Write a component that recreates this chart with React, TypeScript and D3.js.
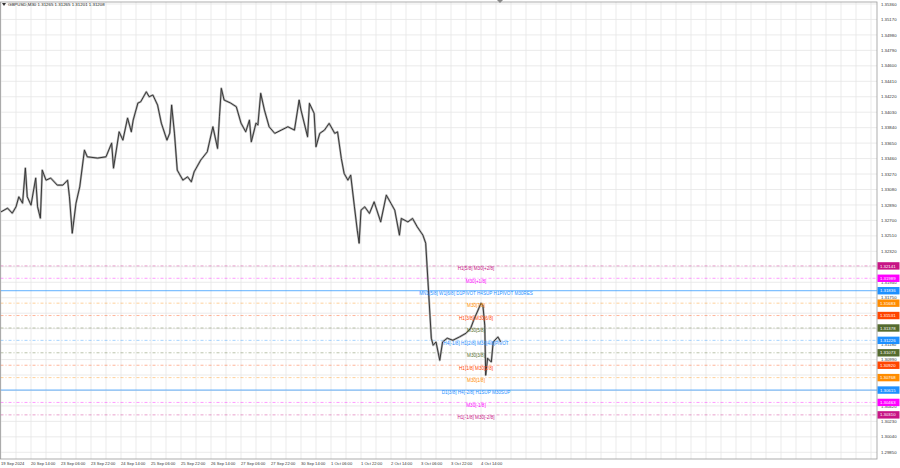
import * as d3 from 'd3';

const W = 900;
const H = 468;
const plot = { left: 0.5, right: 877, top: 2, bottom: 459 };

const title = 'GBPUSD,M30  1.31265 1.31265 1.31201 1.31208';

const timeLabels = [
  '19 Sep 2024', '20 Sep 14:00', '23 Sep 06:00', '23 Sep 22:00', '24 Sep 14:00',
  '25 Sep 06:00', '25 Sep 22:00', '26 Sep 14:00', '27 Sep 06:00', '27 Sep 22:00',
  '30 Sep 14:00', '1 Oct 06:00', '1 Oct 22:00', '2 Oct 14:00', '3 Oct 06:00',
  '3 Oct 22:00', '4 Oct 14:00',
];

const priceTicks = [
  1.3536, 1.3517, 1.3498, 1.3479, 1.346, 1.3441, 1.3422, 1.3403, 1.3384, 1.3365,
  1.3346, 1.3327, 1.3308, 1.3289, 1.327, 1.3251, 1.3232, 1.3213, 1.3194, 1.3175,
  1.3156, 1.3137, 1.3118, 1.3099, 1.308, 1.3061, 1.3042, 1.3023, 1.3004, 1.2985,
];

// [bar index, close]
const closeSeries: [number, number][] = [
  [0, 1.32805], [7, 1.32851], [12, 1.32789], [16, 1.32867], [19, 1.3299], [23, 1.32912],
  [26, 1.33343], [28, 1.3299], [32, 1.32888], [37, 1.3322], [39, 1.32867], [42, 1.32728],
  [44, 1.33318], [48, 1.33195], [53, 1.3322], [60, 1.33134], [66, 1.33134], [71, 1.33195],
  [73, 1.3299], [76, 1.32543], [80, 1.32912], [84, 1.33113], [89, 1.33564], [92, 1.33482],
  [103, 1.33466], [112, 1.33482], [118, 1.3365], [120, 1.33343], [123, 1.33564], [126, 1.33789],
  [130, 1.33687], [135, 1.33958], [139, 1.33789], [141, 1.33933], [146, 1.34142], [149, 1.34158],
  [155, 1.34281], [158, 1.3422], [162, 1.34241], [167, 1.34118], [171, 1.33896], [177, 1.33687],
  [180, 1.33773], [182, 1.34118], [185, 1.33773], [188, 1.33318], [194, 1.33195], [199, 1.33236],
  [203, 1.33174], [206, 1.33297], [213, 1.33441], [220, 1.33543], [226, 1.33851], [231, 1.33585],
  [233, 1.33974], [235, 1.34323], [238, 1.34179], [245, 1.34142], [251, 1.34097], [256, 1.33896],
  [261, 1.33789], [265, 1.33933], [267, 1.33666], [272, 1.33896], [274, 1.33872], [277, 1.34262],
  [281, 1.34056], [286, 1.33851], [292, 1.3377], [299, 1.3381], [306, 1.33851], [313, 1.3381],
  [318, 1.34179], [320, 1.34056], [327, 1.33728], [329, 1.34139], [334, 1.34016], [336, 1.33605],
  [340, 1.3377], [345, 1.3381], [350, 1.33893], [356, 1.3377], [359, 1.33789], [363, 1.33462],
  [366, 1.33278], [370, 1.33195], [373, 1.33257], [377, 1.32867], [380, 1.3258], [382, 1.3242],
  [384, 1.32826], [388, 1.32867], [393, 1.32786], [398, 1.32928], [405, 1.32682], [411, 1.33011],
  [416, 1.32909], [420, 1.32826], [425, 1.32519], [427, 1.32724], [434, 1.32682], [439, 1.32724],
  [444, 1.32621], [450, 1.32519], [453, 1.3242], [456, 1.31842], [459, 1.31252], [461, 1.31166],
  [464, 1.31206], [468, 1.30981], [471, 1.31206], [476, 1.31252], [482, 1.31227], [489, 1.31268],
  [496, 1.31313], [501, 1.31375], [505, 1.31498], [508, 1.31575], [512, 1.31682], [514, 1.31658],
  [516, 1.31412], [517, 1.30797], [519, 1.31006], [523, 1.3096], [525, 1.31206], [530, 1.31268],
  [533, 1.31208],
];

const levelPrices = [
  1.32141, 1.31989, 1.31836, 1.31683, 1.31531, 1.31378, 1.31226,
  1.31073, 1.3092, 1.30768, 1.30615, 1.30463, 1.3031,
];
const levelColors = [
  '#c71585', '#ff00ff', '#1e90ff', '#ff8c00', '#ff4500', '#556b2f', '#1e90ff',
  '#556b2f', '#ff4500', '#ff8c00', '#1e90ff', '#ff00ff', '#c71585',
];
const levelLabels = [
  'H1[5/8] M30[+2/8]',
  'M30[+1/8]',
  'MN1[5/8] W1[6/8] D1PIVOT H4SUP H1PIVOT M30RES',
  'M30[7/8]',
  'H1[3/8] M30[6/8]',
  'M30[5/8]',
  'H4[-1/8] H1[2/8] M30[4/8]PIVOT',
  'M30[3/8]',
  'H1[1/8] M30[2/8]',
  'M30[1/8]',
  'D1[3/8] H4[-2/8] H1SUP M30SUP',
  'M30[-1/8]',
  'H1[-1/8] M30[-2/8]',
];
const levelSolid = [false, false, true, false, false, false, false, false, false, false, true, false, false];

const font = '"Liberation Sans", Arial, sans-serif';

const App = () => {
  const xScale = d3.scaleLinear().domain([0, 32]).range([1, 31]);
  const yScale = d3.scaleLinear().domain([1.2985, 1.3536]).range([452.3, 4]);
  const fmt = d3.format('.5f');

  const line = d3
    .line<[number, number]>()
    .x(d => xScale(d[0]))
    .y(d => yScale(d[1]));
  const pathD = line(closeSeries) || '';

  const vGrid = d3.range(0, 60).map(k => xScale(k * 16)).filter(x => x < plot.right);

  // axis ticks that sit (almost) under a level tag are hidden by the tag in the terminal
  const visibleTicks = priceTicks.filter(
    p => !levelPrices.some(l => Math.abs(yScale(l) - yScale(p)) < 3)
  );

  return (
    <svg
      width={W}
      height={H}
      viewBox={`0 0 ${W} ${H}`}
      style={{ position: 'fixed', left: 0, top: 0, background: '#fff' }}
      fontFamily={font}
    >
      <rect x={0} y={0} width={W} height={H} fill="#fff" />
      {/* grid */}
      {vGrid.map((x, i) => (
        <line key={'v' + i} x1={x} x2={x} y1={plot.top} y2={plot.bottom} stroke="#e6e6e6" strokeWidth={0.8} />
      ))}
      {priceTicks.map((p, i) => (
        <line key={'h' + i} x1={plot.left} x2={plot.right} y1={yScale(p)} y2={yScale(p)} stroke="#e6e6e6" strokeWidth={0.8} />
      ))}

      {/* level lines */}
      {levelPrices.map((p, i) => (
        <line
          key={'l' + i}
          x1={plot.left}
          x2={plot.right}
          y1={yScale(p)}
          y2={yScale(p)}
          stroke={levelColors[i]}
          strokeOpacity={levelSolid[i] ? 0.7 : 0.5}
          strokeWidth={levelSolid[i] ? 1 : 0.8}
          strokeDasharray={levelSolid[i] ? undefined : '3,2,1,2'}
        />
      ))}

      {/* price */}
      <path d={pathD} fill="none" stroke="#b4b4b4" strokeWidth={2.2} strokeLinejoin="round" />
      <path d={pathD} fill="none" stroke="#303030" strokeWidth={0.95} strokeLinejoin="round" />

      {/* level labels */}
      {levelPrices.map((p, i) => (
        <text
          key={'t' + i}
          x={476}
          y={yScale(p) + 4.3}
          textAnchor="middle"
          fontSize={4.6}
          fill={levelColors[i]}
        >
          {levelLabels[i]}
        </text>
      ))}

      {/* frame */}
      <rect
        x={plot.left}
        y={plot.top}
        width={plot.right - plot.left}
        height={plot.bottom - plot.top}
        fill="none"
        stroke="#9a9a9a"
        strokeWidth={0.8}
      />
      <path d="M497,0 L503,0 L500,3 Z" fill="#888" />

      {/* title */}
      <path d="M2,3 L6,3 L4,6 Z" fill="#333" />
      <text x={8} y={6} fontSize={4.4} fill="#222">
        {title}
      </text>

      {/* price axis */}
      {visibleTicks.map((p, i) => (
        <text key={'pt' + i} x={881} y={yScale(p) + 1.6} fontSize={4.3} fill="#333">
          {fmt(p)}
        </text>
      ))}
      {levelPrices.map((p, i) => (
        <g key={'b' + i}>
          <rect x={877.5} y={yScale(p) - 3.7} width={22} height={7.4} fill={levelColors[i]} />
          <text x={880} y={yScale(p) + 1.6} fontSize={4.3} fill="#fff">
            {fmt(p)}
          </text>
        </g>
      ))}

      {/* time axis */}
      {timeLabels.map((t, i) => (
        <text key={'tl' + i} x={xScale(i * 32)} y={465} fontSize={4.1} fill="#333">
          {t}
        </text>
      ))}
    </svg>
  );
};

export default App;
